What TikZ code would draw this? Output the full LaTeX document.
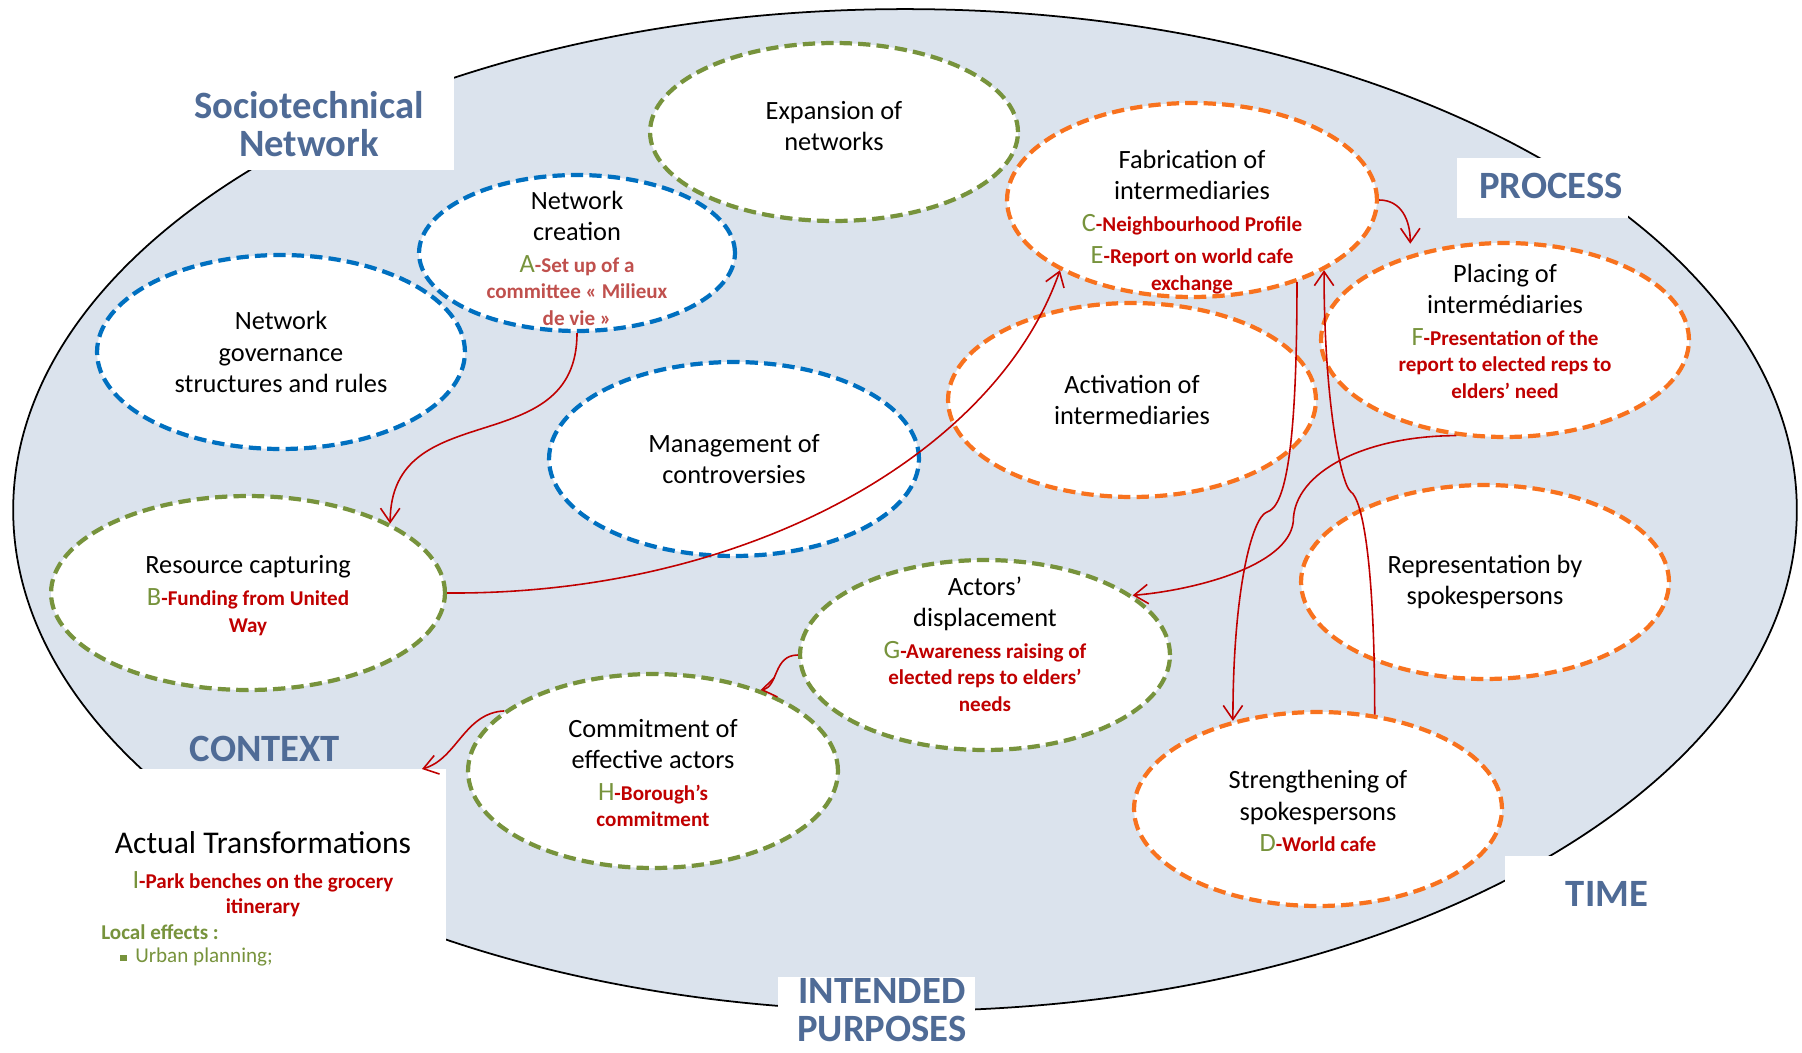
\documentclass[tikz,border=0pt]{standalone}
\usepackage{fontspec}
\setmainfont{Carlito}
\usetikzlibrary{shapes.geometric, arrows, arrows.meta, positioning, calc}
\definecolor{bgfill}{RGB}{219,227,237}
\definecolor{netblue}{RGB}{0,112,192}
\definecolor{stgreen}{RGB}{119,147,60}
\definecolor{storange}{RGB}{248,114,30}
\definecolor{evtred}{RGB}{192,0,0}
\definecolor{evtlight}{RGB}{192,80,77}
\definecolor{letgreen}{RGB}{119,147,60}
\definecolor{tagblue}{RGB}{79,107,150}

% prefix letter and event line
\newcommand{\lett}[1]{{\fontsize{15}{18}\selectfont\mdseries\color{letgreen}#1}}
\newcommand{\evt}[2][evtred]{{\fontsize{12}{15}\selectfont\bfseries\color{#1}#2}}

\begin{document}
\begin{tikzpicture}[x=0.02cm, y=-0.02cm,
    stage/.style={ellipse, fill=white, line width=2.4pt, dash pattern=on 7pt off 3.5pt,
        minimum width=7.36cm, minimum height=3.88cm, inner sep=0pt},
    stagetext/.style={align=center, inner sep=0pt, font=\fontsize{15}{18}\selectfont},
    zonetag/.style={align=center, inner sep=0pt, text=tagblue, font=\fontsize{22}{21.5}\selectfont\bfseries},
    redflow/.style={->, >={Straight Barb[length=8pt,width=11pt]}, draw=evtred, line width=0.9pt}
]
    \useasboundingbox (0,0) rectangle (1802,1052);

    % Big ellipse
    \draw[fill=bgfill, line width=1pt] (905,510) ellipse [x radius=17.84cm, y radius=10.02cm];

    % White boxes of the zones
    \fill[white] (170,69) rectangle (454,170);
    \fill[white] (1457,158) rectangle (1628,218);
    \fill[white] (1505,856) rectangle (1802,960);
    \fill[white] (778,977) rectangle (975,1052);
    \fill[white] (100,769) rectangle (446,1052);

    % Stages
    \node[stage, draw=stgreen, minimum height=3.56cm] (expand) at (834,132) {};
    \node[stage, draw=storange] (activ) at (1132,400) {};
    \node[stage, draw=storange, minimum width=7.4cm] (fabric) at (1192,200) {};
    \node[stage, draw=netblue] (govern) at (281,352) {};
    \node[stage, draw=netblue, minimum width=6.32cm, minimum height=3.12cm] (netcr) at (577,253) {};
    \node[stage, draw=storange] (placing) at (1505,340) {};
    \node[stage, draw=netblue, minimum width=7.4cm] (manage) at (734,459) {};
    \node[stage, draw=stgreen, minimum width=7.88cm] (rescap) at (248,593) {};
    \node[stage, draw=storange] (repres) at (1485,582) {};
    \node[stage, draw=stgreen, minimum width=7.4cm] (commit) at (653,771) {};
    \node[stage, draw=stgreen, minimum width=7.4cm, minimum height=3.8cm] (actors) at (985,655) {};
    \node[stage, draw=storange] (strength) at (1318,809) {};

    % Stage texts
    \node[stagetext, yshift=0.12cm] (expand-t) at (expand) {Expansion of\\networks};
    \node[stagetext, yshift=-0.44cm] (fabric-t) at (fabric) {Fabrication of\\intermediaries\\
        \lett{C}\evt{-Neighbourhood Profile}\\\lett{E}\evt{-Report on world cafe}\\[-2.5pt]\evt{exchange}};
    \node[stagetext, yshift=-0.1cm] (netcr-t) at (netcr) {Network\\creation\\
        \lett{A}\evt[evtlight]{-Set up of a}\\[-3pt]\evt[evtlight]{committee « Milieux}\\[-3pt]\evt[evtlight]{de vie »}};
    \node[stagetext] (govern-t) at (govern) {Network\\governance\\structures and rules};
    \node[stagetext, yshift=0.18cm] (placing-t) at (placing) {Placing of\\intermédiaries\\
        \lett{F}\evt{-Presentation of the}\\[-3pt]\evt{report to elected reps to}\\[-3pt]\evt{elders’ need}};
    \node[stagetext] (activ-t) at (activ) {Activation of\\intermediaries};
    \node[stagetext] (manage-t) at (manage) {Management of\\controversies};
    \node[stagetext, yshift=-0.06cm] (rescap-t) at (rescap) {Resource capturing\\
        \lett{B}\evt{-Funding from United}\\[-2.5pt]\evt{Way}};
    \node[stagetext] (repres-t) at (repres) {Representation by\\spokespersons};
    \node[stagetext, yshift=0.22cm] (actors-t) at (actors) {Actors’\\displacement\\
        \lett{G}\evt{-Awareness raising of}\\[-3pt]\evt{elected reps to elders’}\\[-3pt]\evt{needs}};
    \node[stagetext, yshift=-0.04cm] (commit-t) at (commit) {Commitment of\\effective actors\\
        \lett{H}\evt{-Borough’s}\\[-3pt]\evt{commitment}};
    \node[stagetext, yshift=-0.04cm] (strength-t) at (strength) {Strengthening of\\spokespersons\\
        \lett{D}\evt{-World cafe}};

    % Zone labels
    \node[zonetag] (socio) at (309,124) {Sociotechnical\\Network};
    \node[zonetag] (process) at (1551,186) {PROCESS};
    \node[zonetag] (time) at (1607,894) {TIME};
    \node[zonetag] (context) at (265,749) {CONTEXT};
    \node[zonetag] (intended) at (882,1010) {INTENDED\\PURPOSES};

    % Actual transformations
    \node[inner sep=0pt, font=\fontsize{18}{21}\selectfont] (actual) at (263,843) {Actual Transformations};
    \node[align=center, inner sep=0pt, font=\fontsize{12}{15}\selectfont\bfseries, text=evtred] (park) at (263,894)
        {\lett{I}-Park benches on the grocery\\[-1pt]itinerary};
    \node[anchor=west, inner sep=0pt, font=\fontsize{12}{15}\selectfont\bfseries, text=letgreen] (local) at (101,932) {Local effects :};
    \node[anchor=west, inner sep=0pt, font=\fontsize{12}{15}\selectfont, text=letgreen] (urban) at (120,957)
        {\rule[1pt]{3.5pt}{3.5pt}\hspace{5pt}Urban planning;};
    \coordinate (trin) at (422,769);

    % Connectors
    \draw[redflow] (netcr.south) .. controls +(0,130) and +(0,-130) .. (rescap.26);
    \draw[redflow] (rescap.east) .. controls +(304,2) and +(-63,181) .. (fabric.208);
    \draw[redflow, shorten >=0.22cm] (fabric.east) .. controls +(22,0) and +(0,-35) .. (placing.138);
    \draw[redflow] (fabric.-38) .. controls +(0,170) and +(18,-5) .. ++(-30,230)
        .. controls +(-15,5) and +(0,-130) .. (strength.134);
    \draw[redflow] (strength.59) .. controls +(0,-150) and +(12,8) .. ++(-24,-223)
        .. controls +(-10,-8) and +(0,130) .. (fabric.-28);
    \draw[redflow] (placing.243) .. controls +(-90,0) and +(0,-50) .. ++(-163,86)
        .. controls +(-5,45) and +(60,-5) .. (actors.22);
    \draw[redflow] (actors.west) .. controls +(-25,0) and +(18,-3) .. (commit.37);
    \draw[redflow] (commit.158) .. controls +(-40,2) and +(35,-10) .. (trin);
\end{tikzpicture}
\end{document}
